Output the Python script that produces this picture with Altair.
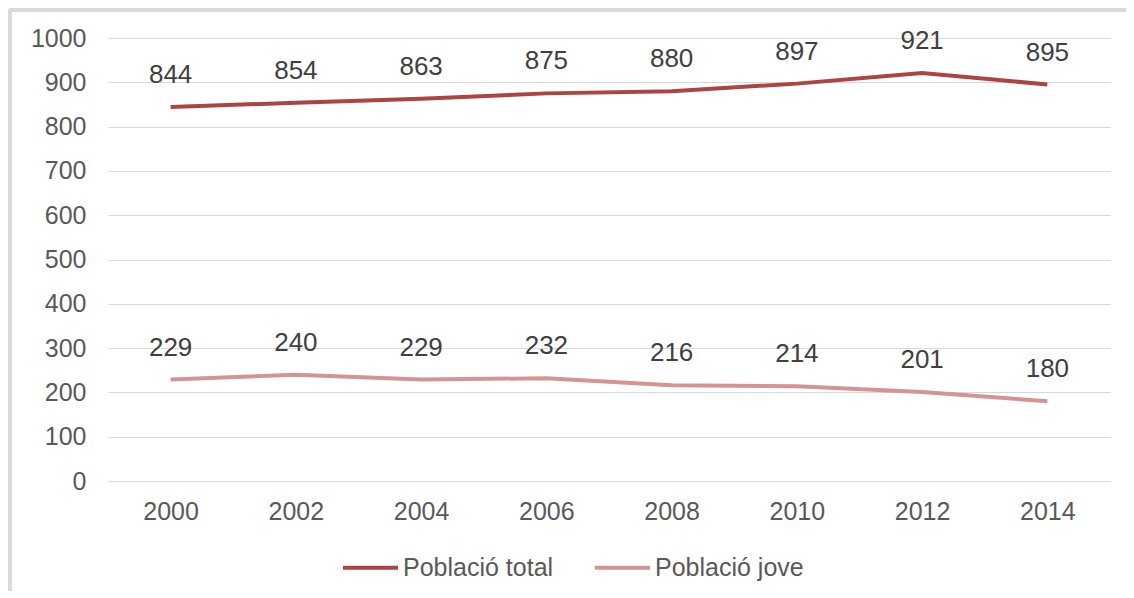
import altair as alt
import pandas as pd

years = ["2000", "2002", "2004", "2006", "2008", "2010", "2012", "2014"]
total = [844, 854, 863, 875, 880, 897, 921, 895]
jove = [229, 240, 229, 232, 216, 214, 201, 180]
series = ["Població total", "Població jove"]
colors = ["#ad4343", "#d69393"]

rows = []
for y, t, j in zip(years, total, jove):
    rows.append({"any": y, "valor": t, "serie": series[0]})
    rows.append({"any": y, "valor": j, "serie": series[1]})
df = pd.DataFrame(rows)

FONT = "Liberation Sans"

x = alt.X("any:O", sort=years, title=None,
          scale=alt.Scale(type="point", padding=0.5),
          axis=alt.Axis(labelAngle=0, ticks=False, domain=False, grid=False,
                        labelFontSize=25, labelColor="#595959", labelFont=FONT,
                        labelPadding=18))
y = alt.Y("valor:Q", title=None,
          scale=alt.Scale(domain=[0, 1000]),
          axis=alt.Axis(values=list(range(0, 1001, 100)), format="d", ticks=False, domain=False,
                        gridColor="#d9d9d9", gridWidth=1,
                        labelFontSize=25, labelColor="#595959", labelFont=FONT,
                        labelPadding=22))

color = alt.Color("serie:N", sort=series,
                  scale=alt.Scale(domain=series, range=colors),
                  legend=alt.Legend(title=None, orient="none", direction="horizontal",
                                    legendX=233, legendY=500, symbolType="stroke",
                                    symbolSize=3025, symbolStrokeWidth=4,
                                    labelFontSize=25, labelColor="#595959", labelFont=FONT,
                                    labelOffset=3, columnPadding=33, padding=0))

lines = alt.Chart(df).mark_line(strokeWidth=4).encode(x=x, y=y, color=color)
labels = alt.Chart(df).mark_text(dy=-32, fontSize=26, font=FONT, color="#404040",
                                 baseline="middle", align="center").encode(
    x=alt.X("any:O", sort=years), y="valor:Q", text="valor:Q")

border_top = alt.Chart(df).mark_rule(color="#d9d9d9", strokeWidth=3).encode(
    x=alt.value(-99), x2=alt.value(1020), y=alt.value(-28))
border_left = alt.Chart(df).mark_rule(color="#d9d9d9", strokeWidth=3).encode(
    x=alt.value(-98), y=alt.value(-29), y2=alt.value(580))

chart = alt.layer(border_top, border_left, lines, labels).properties(
    width=1002, height=443,
    autosize=alt.AutoSizeParams(type="none"),
    padding={"left": 100, "top": 30, "right": 16, "bottom": 110},
).configure_view(stroke=None)

chart.save("out.html", embed_options={"renderer": "svg", "actions": False})
